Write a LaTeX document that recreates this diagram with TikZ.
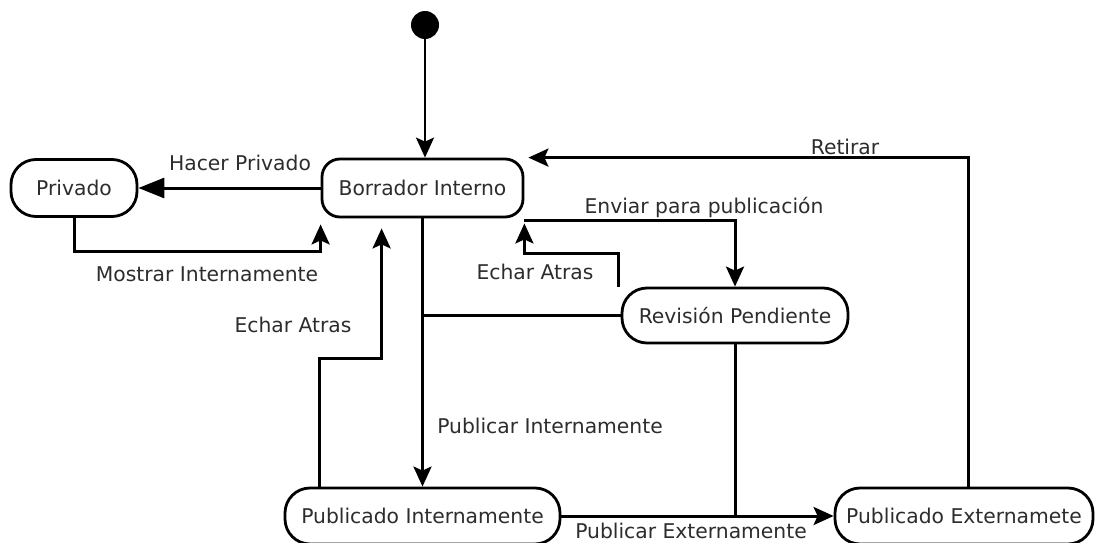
\documentclass[tikz,border=0pt]{standalone}
\usepackage{fontspec}
\setmainfont{DejaVu Sans}
\usetikzlibrary{arrows.meta,calc}
\definecolor{txt}{RGB}{45,45,45}
\tikzset{
  state/.style={draw=black, line width=2.8pt, rounded corners=25pt, inner sep=0pt,
    text=txt, font=\fontsize{20.3}{24}\selectfont},
  lbl/.style={text=txt, font=\fontsize{20.3}{24}\selectfont, inner sep=0pt},
  conn/.style={draw=black, line width=3pt},
  arr/.style={conn, -{Stealth[length=20pt,width=18pt,inset=4pt]}},
  bigarr/.style={conn, -{Triangle[length=26pt,width=20pt]}},
}
\begin{document}
\begin{tikzpicture}[x=1pt,y=-1pt]
\useasboundingbox (0,0) rectangle (1095,543);
\fill[white] (0,0) rectangle (1095,543);

% states
\node[circle, fill=black, minimum size=28pt, inner sep=0pt] (init) at (425,25) {};
\node[state, minimum width=126pt, minimum height=57pt] (priv) at (74,188) {Privado};
\node[state, rounded corners=18pt, minimum width=201pt, minimum height=58pt] (bi) at (422.5,188) {Borrador Interno};
\node[state, minimum width=226pt, minimum height=55pt] (rp) at (735,315.5) {Revisión Pendiente};
\node[state, minimum width=275pt, minimum height=56pt] (pi) at (422.5,516) {Publicado Internamente};
\node[state, minimum width=258pt, minimum height=56pt] (pe) at (964,516) {Publicado Externamete};

% connectors
\draw[conn, line width=2.2pt, -{Stealth[length=20pt,width=18pt,inset=4pt]}] (init) -- (init |- bi.north);
\draw[bigarr] (bi.west) -- (priv.east);
\draw[arr] (priv.south) |- ($(bi.south west)+(0,33)$) -- ($(bi.south west)+(0,6)$);
\draw[arr] ($(pi.north west)+(36,0)$) |- ($(bi.south west)+(61,140)$) -- ($(bi.south west)+(61,10)$);
\draw[arr] (bi.south) -- (pi.north);
\draw[conn] (rp.west) -- (rp.west -| bi.south);
\draw[arr] ($(bi.south east)+(0,2)$) -| (rp.north);
\draw[arr] ($(rp.north west)+(-2,0)$) |- ($(bi.south east)+(0,35)$) -- ($(bi.south east)+(0,5)$);
\draw[conn] (rp.south) -- (rp.south |- pe.west);
\draw[arr] (pi.east) -- (pe.west);
\draw[arr] ($(pe.north)+(4,0)$) |- ($(bi.north east)+(4,0)$);

% labels
\node[lbl] (l1) at (240,163) {Hacer Privado};
\node[lbl] (l2) at (207,274) {Mostrar Internamente};
\node[lbl] (l3) at (704,207) {Enviar para publicación};
\node[lbl] (l4) at (535,272) {Echar Atras};
\node[lbl] (l5) at (293,325) {Echar Atras};
\node[lbl] (l6) at (550,426) {Publicar Internamente};
\node[lbl] (l7) at (691,531) {Publicar Externamente};
\node[lbl] (l8) at (845,147) {Retirar};
\end{tikzpicture}
\end{document}
